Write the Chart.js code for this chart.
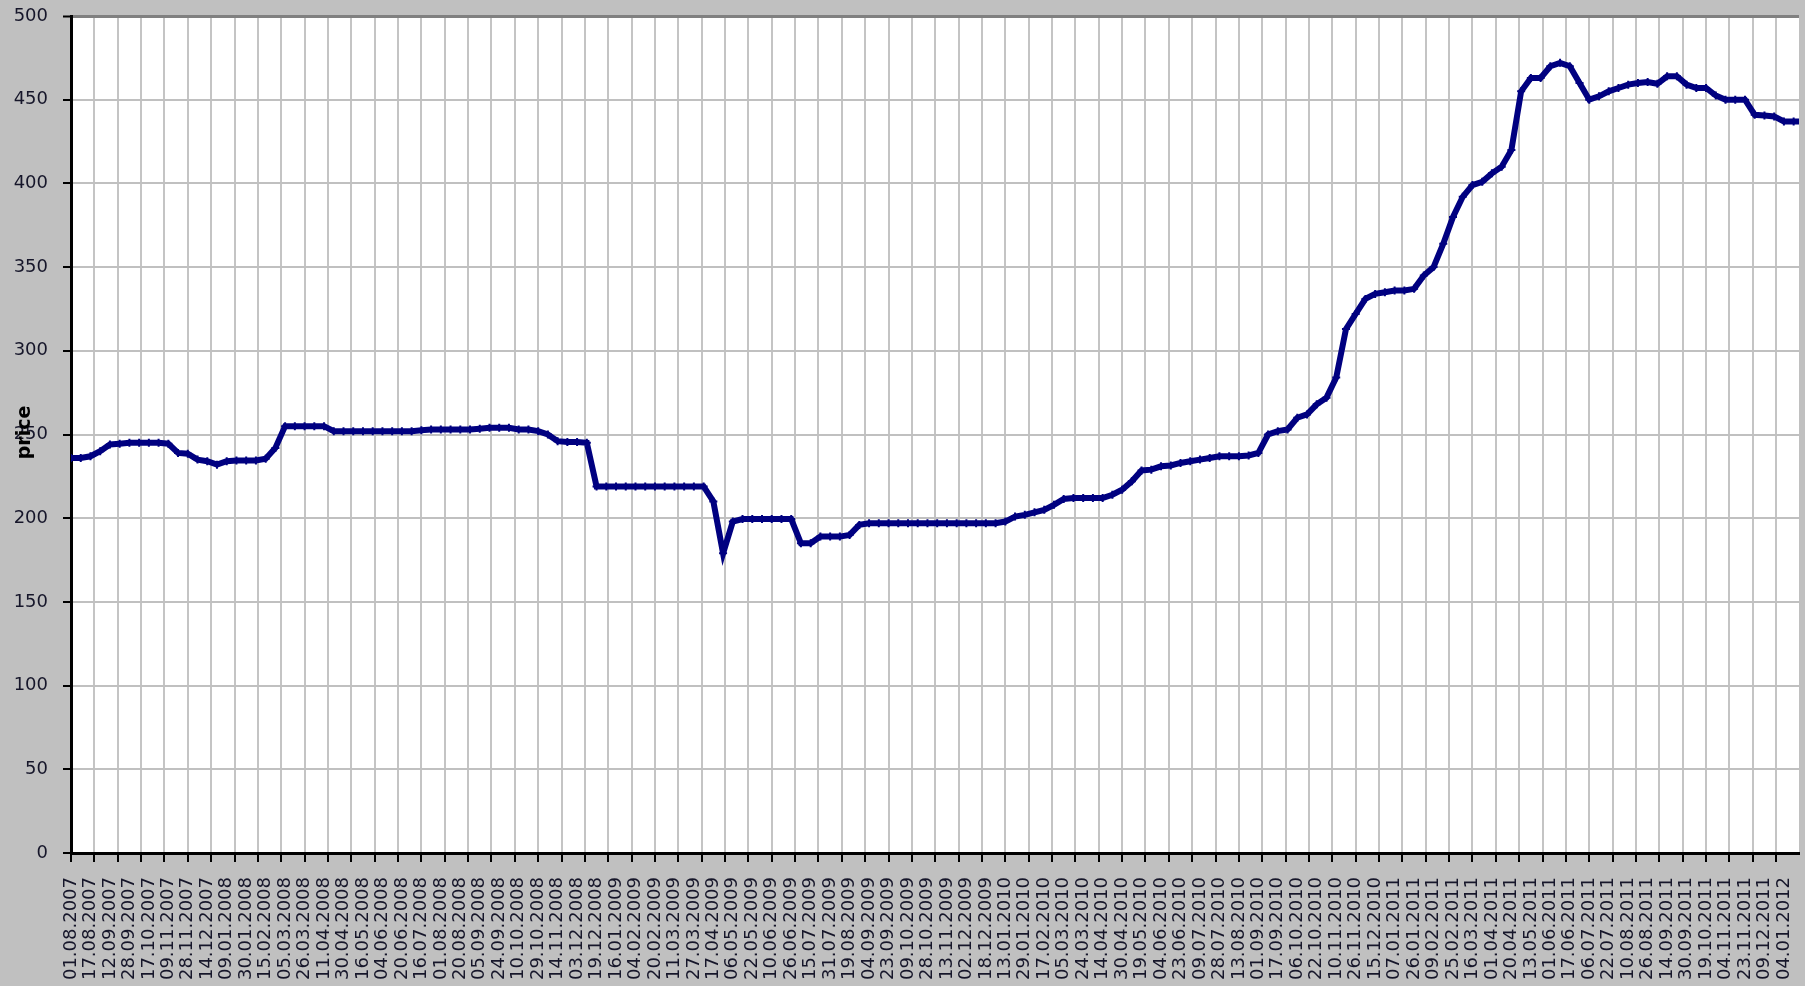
<!DOCTYPE html>
<html>
<head>
<meta charset="utf-8">
<script src="https://cdn.jsdelivr.net/npm/chart.js@4.4.1/dist/chart.umd.min.js"></script>
<style>
  html, body { margin: 0; padding: 0; background: #c0c0c0; }
  #wrap { width: 1805px; height: 986px; }
</style>
</head>
<body>
<div id="wrap"><canvas id="chart"></canvas></div>
<script>
// tick labels on the date axis (one every LABEL_STEP points)
const dates = [
  '01.08.2007', '17.08.2007', '12.09.2007', '28.09.2007', '17.10.2007', '09.11.2007', '28.11.2007', '14.12.2007',
  '09.01.2008', '30.01.2008', '15.02.2008', '05.03.2008', '26.03.2008', '11.04.2008', '30.04.2008', '16.05.2008',
  '04.06.2008', '20.06.2008', '16.07.2008', '01.08.2008', '20.08.2008', '05.09.2008', '24.09.2008', '10.10.2008',
  '29.10.2008', '14.11.2008', '03.12.2008', '19.12.2008',
  '16.01.2009', '04.02.2009', '20.02.2009', '11.03.2009', '27.03.2009', '17.04.2009', '06.05.2009', '22.05.2009',
  '10.06.2009', '26.06.2009', '15.07.2009', '31.07.2009', '19.08.2009', '04.09.2009', '23.09.2009', '09.10.2009',
  '28.10.2009', '13.11.2009', '02.12.2009', '18.12.2009',
  '13.01.2010', '29.01.2010', '17.02.2010', '05.03.2010', '24.03.2010', '14.04.2010', '30.04.2010', '19.05.2010',
  '04.06.2010', '23.06.2010', '09.07.2010', '28.07.2010', '13.08.2010', '01.09.2010', '17.09.2010', '06.10.2010',
  '22.10.2010', '10.11.2010', '26.11.2010', '15.12.2010',
  '07.01.2011', '26.01.2011', '09.02.2011', '25.02.2011', '16.03.2011', '01.04.2011', '20.04.2011', '13.05.2011',
  '01.06.2011', '17.06.2011', '06.07.2011', '22.07.2011', '10.08.2011', '26.08.2011', '14.09.2011', '30.09.2011',
  '19.10.2011', '04.11.2011', '23.11.2011', '09.12.2011',
  '04.01.2012'
];

// price at every date label and halfway to the next one
const prices = [
  236, 236,   237, 240,   244, 244.5, 245, 245,   245, 245,   244.5, 239, 238.5, 235, 234, 232,
  234, 234.5, 234.5, 234.5, 235.5, 242, 255, 255, 255, 255,   255, 252,   252, 252,   252, 252,
  252, 252,   252, 252,   252.5, 253, 253, 253,   253, 253,   253.5, 254, 254, 254,   253, 253,
  252, 250,   246, 245.5, 245.5, 245, 219, 219,   219, 219,   219, 219,   219, 219,   219, 219,
  219, 219,   210, 179,   198, 199.5, 199.5, 199.5, 199.5, 199.5, 199.5, 185, 185, 189, 189, 189,
  190, 196,   197, 197,   197, 197,   197, 197,   197, 197,   197, 197,   197, 197,   197, 197,
  198, 201,   202, 203.5, 205, 208,   211.5, 212, 212, 212,   212, 214,   217, 222,   228.5, 229,
  231, 231.5, 233, 234,   235, 236,   237, 237,   237, 237.5, 239, 250,   252, 253,   260, 262,
  268, 272,   284, 313,   322, 331,   334, 335,   336, 336,   337, 345,   350, 364,   380, 392,
  399, 401,   406, 410,   420, 455,   463, 463,   470, 472,   470, 460,   450, 452,   455, 457,
  459, 460,   460.5, 459.5, 464, 464, 459, 457,   457, 452.5, 450, 450,   450, 441,   440.5, 440,
  437, 437,   437
];

const LABEL_STEP = 2;     // points between two date labels
const GRID_STEP = 2.4;    // tick marks / gridlines every 1.2 labels
const X_MAX = 177.55;

const FONT = 'DejaVu Sans';
const TEXT = '#16162a';

const chartBg = {
  id: 'chartBg',
  beforeDraw(chart) {
    const { ctx, chartArea: a } = chart;
    ctx.save();
    ctx.fillStyle = '#c0c0c0';
    ctx.fillRect(0, 0, chart.width, chart.height);
    ctx.fillStyle = '#ffffff';
    ctx.fillRect(a.left, a.top, a.right - a.left, a.bottom - a.top);
    ctx.restore();
  }
};

// y title sits over the tick labels like in the original
const yTitle = {
  id: 'yTitle',
  afterDraw(chart) {
    const { ctx, chartArea: a } = chart;
    ctx.save();
    ctx.translate(25, (a.top + a.bottom) / 2 - 2);
    ctx.rotate(-Math.PI / 2);
    ctx.font = 'bold 19px "DejaVu Sans"';
    ctx.fillStyle = '#000';
    ctx.textAlign = 'center';
    ctx.textBaseline = 'middle';
    ctx.fillText('price', 0, 0);
    ctx.restore();
  }
};

new Chart(document.getElementById('chart'), {
  type: 'line',
  data: {
    datasets: [{
      label: 'price',
      data: prices.map((p, i) => ({ x: i, y: p })),
      borderColor: '#000080',
      backgroundColor: '#000080',
      borderWidth: 6,
      pointStyle: 'cross',
      pointRadius: 4,
      pointBorderWidth: 2,
      tension: 0,
      xAxisID: 'x',
      yAxisID: 'y'
    }]
  },
  options: {
    responsive: true,
    maintainAspectRatio: false,
    animation: false,
    layout: { padding: { top: 16, right: 2, left: 0, bottom: 0 } },
    plugins: {
      legend: { display: false },
      tooltip: { enabled: false }
    },
    scales: {
      xg: {
        type: 'linear',
        position: 'bottom',
        weight: 1,
        min: 0,
        max: X_MAX,
        ticks: { display: false, stepSize: GRID_STEP, includeBounds: false },
        grid: { color: '#c4c4c4', lineWidth: 2, tickColor: '#000', tickLength: 9, tickWidth: 2 },
        border: { color: '#000', width: 3 },
        afterFit: s => { s.paddingLeft = 0; s.paddingRight = 0; }
      },
      x: {
        type: 'linear',
        position: 'bottom',
        weight: 2,
        min: 0,
        max: X_MAX,
        grid: { display: false, drawTicks: false },
        border: { display: false },
        ticks: {
          stepSize: LABEL_STEP,
          includeBounds: false,
          autoSkip: false,
          minRotation: 90,
          maxRotation: 90,
          padding: 15,
          color: TEXT,
          font: { family: FONT, size: 18 },
          callback: v => dates[v / LABEL_STEP] || ''
        },
        afterFit: s => { s.height = 124; s.paddingLeft = 0; s.paddingRight = 0; }
      },
      y: {
        min: 0,
        max: 500,
        ticks: {
          stepSize: 50,
          padding: 15,
          color: TEXT,
          font: { family: FONT, size: 18 }
        },
        grid: {
          color: c => c.tick && c.tick.value === 500 ? '#808080' : '#c0c0c0',
          lineWidth: c => c.tick && c.tick.value === 500 ? 3 : 2,
          tickColor: '#000',
          tickLength: 8,
          tickWidth: 2
        },
        border: { color: '#000', width: 3 },
        afterFit: s => { s.width = 71; s.paddingTop = 0; s.paddingBottom = 0; }
      }
    }
  },
  plugins: [chartBg, yTitle]
});
</script>
</body>
</html>
